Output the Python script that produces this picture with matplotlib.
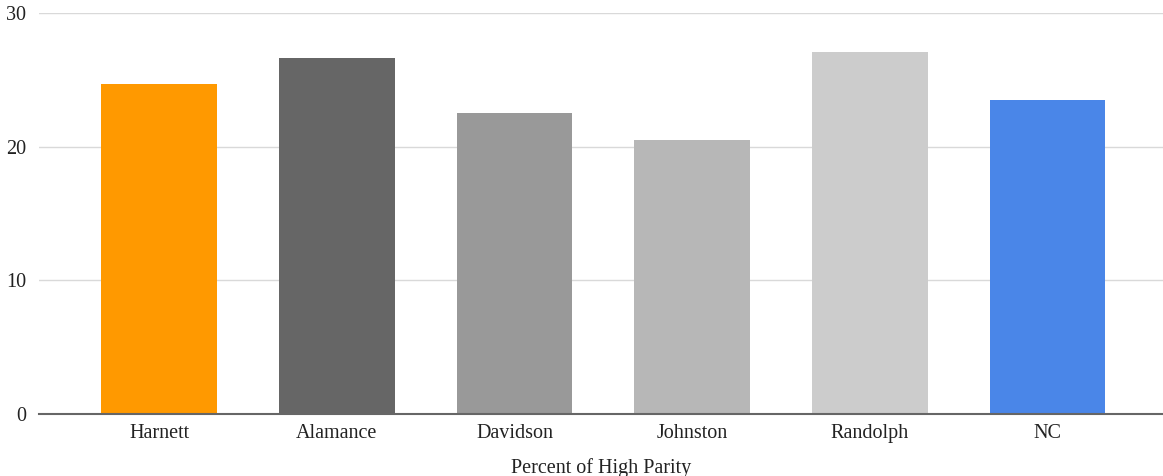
import matplotlib
matplotlib.use("Agg")
import matplotlib.pyplot as plt

categories = ["Harnett", "Alamance", "Davidson", "Johnston", "Randolph", "NC"]
values = [24.7, 26.6, 22.5, 20.5, 27.1, 23.5]
colors = ["#ff9900", "#666666", "#999999", "#b7b7b7", "#cccccc", "#4a86e8"]
yticks = [0, 10, 20, 30]
xlabel = "Percent of High Parity"

plt.rcParams['font.family'] = ['Liberation Serif', 'DejaVu Serif']

fig = plt.figure(figsize=(11.63, 4.76), dpi=100)
ax = fig.add_axes([0.0335, 0.1303, 0.9665, 0.8424])

x = list(range(len(categories)))
ax.bar(x, values, width=0.65, color=colors, zorder=3)

ax.set_ylim(0, 30)
ax.set_xlim(-0.677, 5.65)
ax.set_yticks(yticks)
ax.set_yticklabels([str(t) for t in yticks])
ax.set_xticks(x)
ax.set_xticklabels(categories)

for s in ["top", "right", "left"]:
    ax.spines[s].set_visible(False)
ax.spines["bottom"].set_color("#666666")
ax.spines["bottom"].set_linewidth(1.5)
ax.spines["bottom"].set_zorder(4)

ax.yaxis.grid(True, color="#d9d9d9", linewidth=1.0, zorder=0)
ax.set_axisbelow(True)
ax.tick_params(axis="both", length=0, labelsize=14.5, labelcolor="#222222")
ax.tick_params(axis="x", pad=7)
ax.tick_params(axis="y", pad=9)

ax.set_xlabel(xlabel, fontsize=14.5, color="#222222", labelpad=11)

fig.savefig("out.png", dpi=100, facecolor="white")
